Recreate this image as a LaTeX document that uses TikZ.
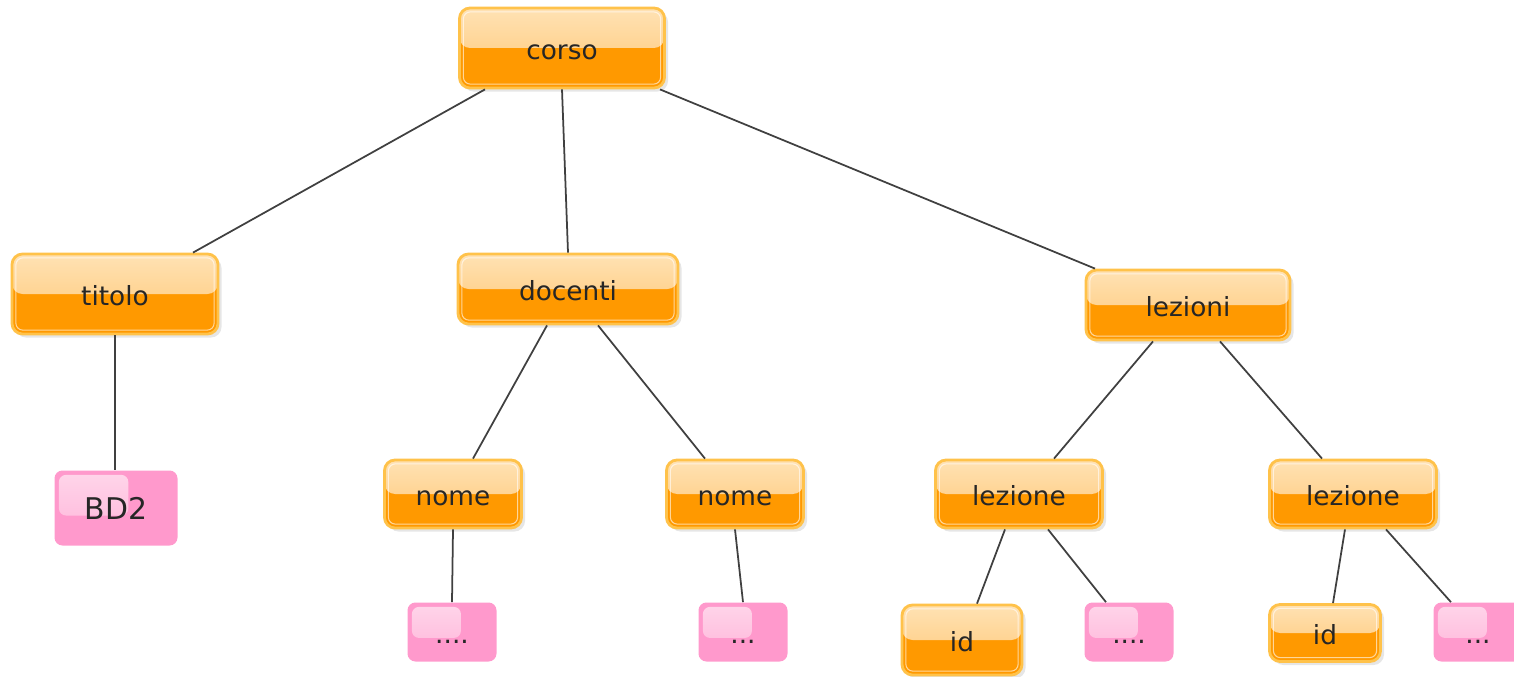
\documentclass[tikz,border=0pt]{standalone}
\usepackage{fontspec}
\setmainfont{DejaVu Sans}
\usetikzlibrary{shadows,calc}

\definecolor{elemorange}{HTML}{FF9900}
\definecolor{elemtop}{HTML}{FFE2B4}
\definecolor{elemmid}{HTML}{FFC672}
\definecolor{elemborder}{HTML}{FFC24A}
\definecolor{valpink}{HTML}{FF99CC}
\definecolor{valgloss}{HTML}{FFD6EA}

\begin{document}
\begin{tikzpicture}[
		elem/.style={rectangle, rounded corners=6pt, draw=elemborder, line width=1.6pt,
			fill=elemorange, inner sep=0pt, text=black!85,
			text height=13.8pt, text depth=1.2pt,
			font=\fontsize{15}{18}\selectfont,
			drop shadow={shadow xshift=2pt, shadow yshift=-2pt, opacity=0.2},
			path picture={
				\fill[top color=elemtop, bottom color=elemmid]
					(path picture bounding box.north west) rectangle (path picture bounding box.east);
				\draw[white, opacity=0.6, line width=0.6pt, rounded corners=4pt]
					([shift={(2.2pt,-2.2pt)}]path picture bounding box.north west)
					rectangle ([shift={(-2.2pt,2.2pt)}]path picture bounding box.south east);
			}},
		val/.style={rectangle, rounded corners=4.5pt, fill=valpink, inner sep=0pt, text=black!85,
			text height=13.8pt, text depth=1.2pt,
			font=\fontsize{15}{18}\selectfont,
			path picture={
				\fill[top color=valgloss, bottom color=valpink!75!white, rounded corners=4pt]
					([shift={(2.5pt,-2.5pt)}]path picture bounding box.north west)
					rectangle ($(path picture bounding box.north west)!0.6!(path picture bounding box.south east)$);
			}},
		link/.style={draw=black!75, line width=1pt}]
	\useasboundingbox (0,0) rectangle (30.28,-13.54);

	% elementi
	\node[elem, minimum width=4.1cm, minimum height=1.6cm] (corso) at (11.24,-0.96) {corso};
	\node[elem, minimum width=4.12cm, minimum height=1.6cm] (titolo) at (2.30,-5.88) {titolo};
	\node[elem, minimum width=4.4cm, minimum height=1.4cm] (docenti) at (11.36,-5.78) {docenti};
	\node[elem, minimum width=4.08cm, minimum height=1.4cm] (lezioni) at (23.76,-6.10) {lezioni};
	\node[elem, minimum width=2.74cm, minimum height=1.36cm] (nome1) at (9.06,-9.88) {nome};
	\node[elem, minimum width=2.74cm, minimum height=1.36cm] (nome2) at (14.70,-9.88) {nome};
	\node[elem, minimum width=3.34cm, minimum height=1.36cm] (lezione1) at (20.38,-9.88) {lezione};
	\node[elem, minimum width=3.34cm, minimum height=1.36cm] (lezione2) at (27.06,-9.88) {lezione};
	\node[elem, minimum width=2.4cm, minimum height=1.4cm] (id1) at (19.24,-12.80) {id};
	\node[elem, minimum width=2.22cm, minimum height=1.14cm] (id2) at (26.50,-12.66) {id};

	% valori
	\node[val, font=\fontsize{17}{20}\selectfont, minimum width=2.46cm, minimum height=1.5cm] (bd2) at (2.32,-10.16) {BD2};
	\node[val, minimum width=1.78cm, minimum height=1.18cm] (val1) at (9.04,-12.64) {....};
	\node[val, minimum width=1.78cm, minimum height=1.18cm] (val2) at (14.86,-12.64) {...};
	\node[val, minimum width=1.78cm, minimum height=1.18cm] (val3) at (22.58,-12.64) {....};
	\node[val, minimum width=1.78cm, minimum height=1.18cm] (val4) at (29.56,-12.64) {...};

	% archi
	\draw[link] ([xshift=-1.54cm]corso.south) -- ([xshift=1.56cm]titolo.north);
	\draw[link] (corso.south) -- (docenti.north);
	\draw[link] ([xshift=1.96cm]corso.south) -- ([xshift=-1.86cm]lezioni.north);
	\draw[link] (titolo.south) -- (titolo.south |- bd2.north);
	\draw[link] ([xshift=-0.42cm]docenti.south) -- ([xshift=0.4cm]nome1.north);
	\draw[link] ([xshift=0.6cm]docenti.south) -- ([xshift=-0.6cm]nome2.north);
	\draw[link] ([xshift=-0.7cm]lezioni.south) -- ([xshift=0.7cm]lezione1.north);
	\draw[link] ([xshift=0.64cm]lezioni.south) -- ([xshift=-0.62cm]lezione2.north);
	\draw[link] (nome1.south) -- (val1.north);
	\draw[link] (nome2.south) -- (val2.north);
	\draw[link] ([xshift=-0.28cm]lezione1.south) -- ([xshift=0.3cm]id1.north);
	\draw[link] ([xshift=0.58cm]lezione1.south) -- ([xshift=-0.46cm]val3.north);
	\draw[link] ([xshift=-0.16cm]lezione2.south) -- ([xshift=0.16cm]id2.north);
	\draw[link] ([xshift=0.66cm]lezione2.south) -- ([xshift=-0.54cm]val4.north);
\end{tikzpicture}
\end{document}
